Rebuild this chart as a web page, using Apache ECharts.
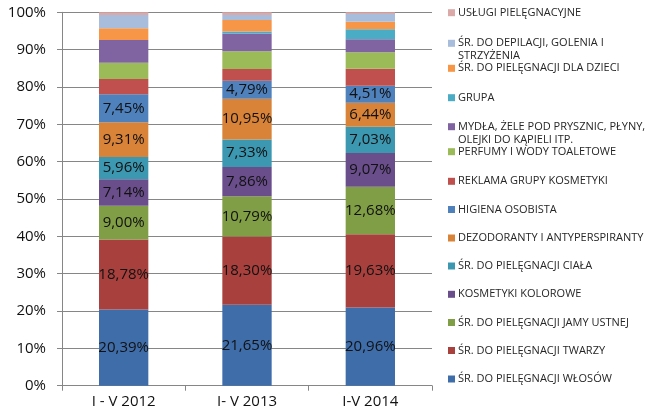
<!DOCTYPE html>
<html>
<head>
<meta charset="utf-8">
<script src="https://cdn.jsdelivr.net/npm/echarts@6/dist/echarts.min.js"></script>
<style>html,body{margin:0;padding:0;background:#fff;}#c{width:655px;height:415px;}</style>
</head>
<body>
<div id="c"></div>
<script>
var categories = ['I - V 2012', 'I- V 2013', 'I-V 2014'];
var yTicks = [0, 10, 20, 30, 40, 50, 60, 70, 80, 90, 100];

// series values (% share), bottom to top of each stack
var wlosow      = [20.39, 21.65, 20.96];
var twarzy      = [18.78, 18.30, 19.63];
var jamyUstnej  = [9.00, 10.79, 12.68];
var kolorowe    = [7.14, 7.86, 9.07];
var ciala       = [5.96, 7.33, 7.03];
var dezodoranty = [9.31, 10.95, 6.44];
var higiena     = [7.45, 4.79, 4.51];
var reklama     = [4.10, 3.12, 4.55];
var perfumy     = [4.37, 4.80, 4.46];
var mydla       = [6.10, 4.70, 3.48];
var grupa       = [0.00, 0.54, 2.64];
var dzieci      = [3.12, 3.10, 2.05];
var depilacja   = [3.57, 1.36, 2.05];
var uslugi      = [0.71, 0.71, 0.45];

var seriesNames = [
  'ŚR. DO PIELĘGNACJI WŁOSÓW',
  'ŚR. DO PIELĘGNACJI TWARZY',
  'ŚR. DO PIELĘGNACJI JAMY USTNEJ',
  'KOSMETYKI KOLOROWE',
  'ŚR. DO PIELĘGNACJI CIAŁA',
  'DEZODORANTY I ANTYPERSPIRANTY',
  'HIGIENA OSOBISTA',
  'REKLAMA GRUPY KOSMETYKI',
  'PERFUMY I WODY TOALETOWE',
  'MYDŁA, ŻELE POD PRYSZNIC, PŁYNY, OLEJKI DO KĄPIELI ITP.',
  'GRUPA',
  'ŚR. DO PIELĘGNACJI DLA DZIECI',
  'ŚR. DO DEPILACJI, GOLENIA I STRZYŻENIA',
  'USŁUGI PIELĘGNACYJNE'
];
var seriesValues = [wlosow, twarzy, jamyUstnej, kolorowe, ciala, dezodoranty, higiena,
  reklama, perfumy, mydla, grupa, dzieci, depilacja, uslugi];
var labelled = [true, true, true, true, true, true, true, false, false, false, false, false, false, false];
var colors = ['#3F6DA9', '#A8413E', '#809E45', '#6A4E8B', '#3C98B1', '#D98339', '#4F81BD',
  '#C0504D', '#9BBB59', '#8064A2', '#4BACC6', '#F79646', '#A8BCDC', '#DBA9A8'];

// legend display text (wrapped as in the reference) and icon-centre y positions
var legendText = {
  'MYDŁA, ŻELE POD PRYSZNIC, PŁYNY, OLEJKI DO KĄPIELI ITP.': 'MYDŁA, ŻELE POD PRYSZNIC, PŁYNY,\nOLEJKI DO KĄPIELI ITP.',
  'ŚR. DO DEPILACJI, GOLENIA I STRZYŻENIA': 'ŚR. DO DEPILACJI, GOLENIA I\nSTRZYŻENIA'
};
var legendY = [379, 350.5, 322.5, 294.3, 266, 238, 209.5, 181.3, 151.7, 126.7, 97.7, 68.3, 43.3, 12.7];

var FONT = '"Open Sans", "DejaVu Sans", sans-serif';
var LH = 12.7;

var series = seriesNames.map(function (name, i) {
  return {
    name: name,
    type: 'bar',
    stack: 'total',
    barWidth: '40%',
    data: seriesValues[i],
    itemStyle: { color: colors[i] },
    label: {
      show: labelled[i],
      position: 'inside',
      color: '#111',
      fontFamily: FONT,
      fontSize: 15,
      formatter: function (p) { return p.value.toFixed(2).replace('.', ',') + '%'; }
    },
    emphasis: { disabled: true }
  };
});

var legends = seriesNames.map(function (name, i) {
  var twoLine = !!legendText[name];
  var h = twoLine ? (3 * LH) : LH;
  return {
    orient: 'vertical',
    left: 448,
    top: legendY[i] - h / 2,
    padding: 0,
    itemWidth: 7,
    itemHeight: 7,
    icon: 'rect',
    selectedMode: false,
    data: [name],
    formatter: function (n) { return legendText[n] ? (' \n' + legendText[n]) : n; },
    textStyle: {
      fontFamily: FONT,
      fontSize: 11,
      color: '#262626',
      lineHeight: LH,
      padding: [0, 0, 0, -2]
    }
  };
});

var chart = echarts.init(document.getElementById('c'), null, { renderer: 'canvas' });
chart.setOption({
  backgroundColor: '#ffffff',
  animation: false,
  color: colors,
  legend: legends,
  grid: { left: 62, right: 223, top: 12.3, bottom: 29.3, containLabel: false },
  xAxis: {
    type: 'category',
    data: categories,
    axisLine: { lineStyle: { color: '#868686', width: 1 } },
    axisTick: { show: true, alignWithLabel: false, length: 5, lineStyle: { color: '#868686' } },
    axisLabel: { color: '#111', fontFamily: FONT, fontSize: 15, margin: 9 }
  },
  yAxis: {
    type: 'value',
    min: yTicks[0],
    max: yTicks[yTicks.length - 1],
    interval: yTicks[1] - yTicks[0],
    axisLine: { show: true, lineStyle: { color: '#868686', width: 1 } },
    axisTick: { show: true, length: 5, lineStyle: { color: '#868686' } },
    splitLine: { show: true, lineStyle: { color: '#868686', width: 1 } },
    axisLabel: { color: '#111', fontFamily: FONT, fontSize: 15, margin: 16, formatter: '{value}%' }
  },
  series: series
});
</script>
</body>
</html>
